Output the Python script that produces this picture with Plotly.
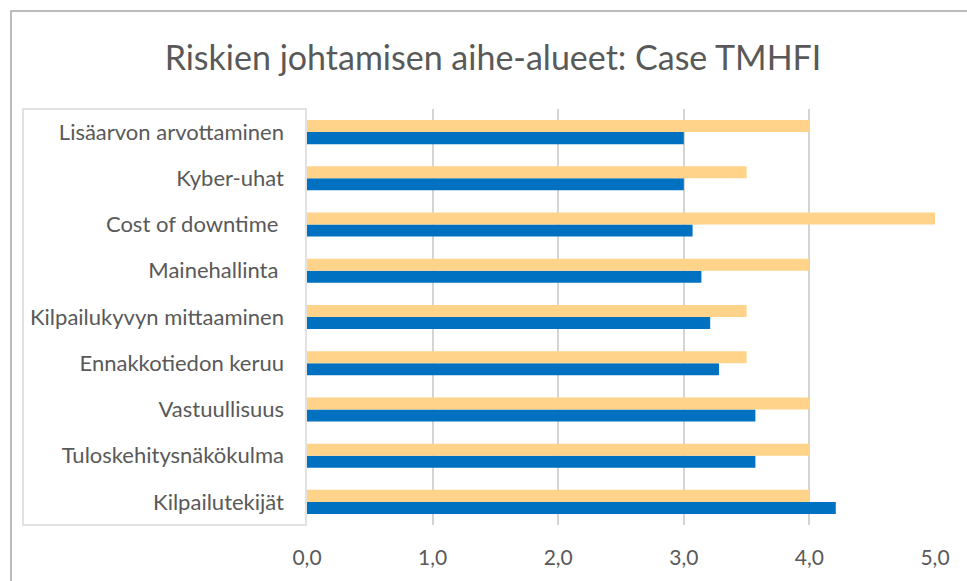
import plotly.graph_objects as go

categories = ["Kilpailutekijät", "Tuloskehitysnäkökulma", "Vastuullisuus",
              "Ennakkotiedon keruu", "Kilpailukyvyn mittaaminen", "Mainehallinta\u00a0",
              "Cost of downtime\u00a0", "Kyber-uhat", "Lisäarvon arvottaminen"]
blue_values = [4.21, 3.57, 3.57, 3.28, 3.21, 3.14, 3.07, 3.0, 3.0]
orange_values = [4.0, 4.0, 4.0, 3.5, 3.5, 4.0, 5.0, 3.5, 4.0]
x_ticks = [0, 1, 2, 3, 4, 5]

W, H = 967, 581
L, R, T, B = 307, 935, 109, 525

def px(x):
    return (x - L) / (R - L)

def py(y):
    return (B - y) / (B - T)

FONT = "Lato"

fig = go.Figure()
fig.add_trace(go.Bar(y=categories, x=blue_values, orientation="h",
                     marker=dict(color="#0070C0", line=dict(width=0)), name="Case"))
fig.add_trace(go.Bar(y=categories, x=orange_values, orientation="h",
                     marker=dict(color="#FFD38A", line=dict(width=0)), name="Target"))

fig.update_layout(
    width=W, height=H,
    margin=dict(l=L, r=W - R, t=T, b=H - B),
    paper_bgcolor="white", plot_bgcolor="white",
    barmode="group", bargap=0.48, bargroupgap=0,
    showlegend=False,
    separators=", ",
    font=dict(family=FONT, color="#595959"),
    title=dict(text="Riskien johtamisen aihe-alueet: Case TMHFI",
               x=493 / W, xref="container", xanchor="center",
               y=1 - 58 / H, yref="container", yanchor="middle",
               font=dict(size=34, color="#595959", family=FONT)),
    xaxis=dict(range=[0, 5], tickvals=x_ticks, tickformat=".1f",
               showgrid=True, gridcolor="#d4d4d4", gridwidth=1.5,
               zeroline=False, showline=False, ticks="",
               tickfont=dict(size=21, color="#595959"), ticklabelstandoff=18),
    yaxis=dict(showgrid=False, zeroline=False, showline=False, ticks="",
               tickfont=dict(size=22, color="#595959"), ticklabelstandoff=22),
    shapes=[
        dict(type="rect", xref="paper", yref="paper",
             x0=px(11), x1=px(975), y0=py(590), y1=py(11),
             line=dict(color="#a6a6a6", width=1.5), layer="below"),
        dict(type="rect", xref="paper", yref="paper",
             x0=px(23), x1=px(306), y0=py(525), y1=py(109),
             line=dict(color="#d9d9d9", width=1.5), layer="below"),
    ],
)

fig.write_html("out.html", config={"displayModeBar": False},
               post_script="document.body.style.margin='0';document.body.style.overflow='hidden';")
